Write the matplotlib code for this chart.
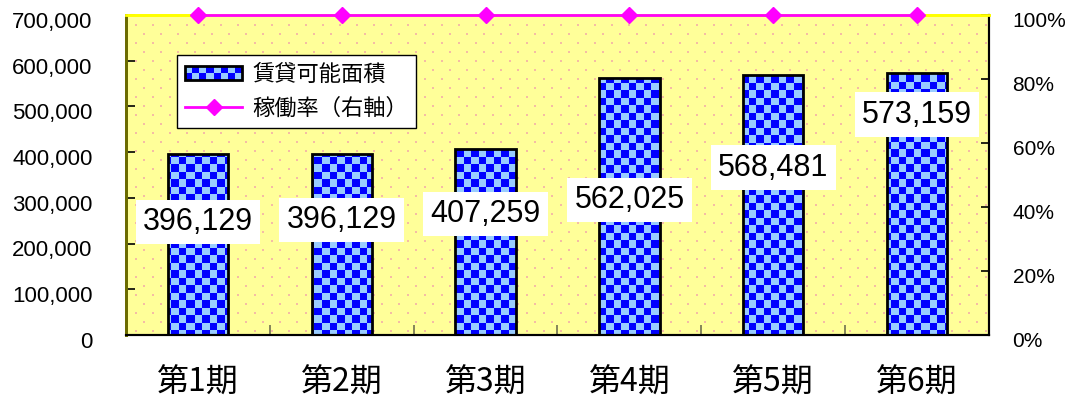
import numpy as np
import matplotlib
matplotlib.use('Agg')
import matplotlib.pyplot as plt
import matplotlib.transforms as mtransforms
from matplotlib.patches import Rectangle
from matplotlib.lines import Line2D
from matplotlib.legend_handler import HandlerBase
from matplotlib.ticker import PercentFormatter, FuncFormatter

# 期ごとの賃貸可能面積と稼働率
periods = ['第1期', '第2期', '第3期', '第4期', '第5期', '第6期']
area = [396129, 396129, 407259, 562025, 568481, 573159]
occupancy = [100, 100, 100, 100, 100, 100]
# ラベルの縦位置 (左軸の値)
label_y = [247000, 251600, 264700, 295300, 366400, 482300]

jp_font = 'Noto Sans CJK JP'
num_font = 'Liberation Sans'
dark_blue = '#0000FF'
light_blue = '#99CCFF'
magenta = '#FF00FF'

fig = plt.figure(figsize=(10.65, 4.01), dpi=100)
ax = fig.add_axes([126 / 1065, 66 / 401, 863 / 1065, 320 / 401])
ax2 = ax.twinx()

W, H = 863, 320
yy, xx = np.mgrid[0:H, 0:W]

# 背景: 黄色地にピンクの点
bg = np.ones((H, W, 3))
bg[:] = np.array([255, 255, 153]) / 255
row = yy // 9
dot = ((yy % 9) < 2) & (((xx + (row % 2) * 8) % 17) < 2)
bg[dot] = np.array([244, 188, 165]) / 255
ax.imshow(bg, extent=(0, 1, 0, 1), transform=ax.transAxes, aspect='auto',
          interpolation='nearest', zorder=0)

# 市松模様
checker = ((xx / 7.5).astype(int) + (yy / 7.5).astype(int)) % 2
chk = np.zeros((H, W, 3))
chk[checker == 0] = np.array([0, 0, 255]) / 255
chk[checker == 1] = np.array([153, 204, 255]) / 255

x = np.arange(len(periods))
bars = ax.bar(x, area, width=0.42, facecolor='none', edgecolor='black',
              linewidth=2, zorder=3)
for b in bars:
    im = ax.imshow(chk, extent=(0, 1, 0, 1), transform=ax.transAxes,
                   aspect='auto', interpolation='nearest', zorder=2)
    im.set_clip_path(b)

for xi, v, ly in zip(x, area, label_y):
    ax.text(xi, ly, f'{v:,}', ha='center', va='center', fontsize=22,
            family=num_font, zorder=5,
            bbox=dict(boxstyle='square,pad=0.24', facecolor='white',
                      edgecolor='none'))

ax2.plot(x, np.array(occupancy) / 100, color=magenta, linewidth=2,
         marker='D', markersize=8, clip_on=False, zorder=5)

ax.set_xlim(-0.5, len(periods) - 0.5)
ax.set_ylim(0, 700000)
ax.set_yticks(np.arange(0, 700001, 100000))
ax.yaxis.set_major_formatter(FuncFormatter(lambda v, p: f'{int(v):,}'))
ax2.set_ylim(0, 1)
ax2.set_yticks(np.arange(0, 1.01, 0.2))
ax2.yaxis.set_major_formatter(PercentFormatter(1.0, decimals=0))

ax.set_xticks(x, periods)
ax.set_xticks(np.arange(0.5, len(periods) - 1, 1), minor=True)
ax.tick_params(axis='x', which='major', length=0, pad=23, labelsize=23)
ax.tick_params(axis='x', which='minor', direction='in', length=7, width=1.2,
               color='#707050')
ax.tick_params(axis='y', direction='in', length=6.5, width=1.2, pad=24,
               labelsize=16, color='black')
ax2.tick_params(axis='y', direction='in', length=6, width=1.2, pad=17,
                labelsize=15, color='black')
for lab in ax.get_xticklabels():
    lab.set_family(jp_font)
shift = mtransforms.ScaledTranslation(0, -3.5 / 72, fig.dpi_scale_trans)
for lab in ax.get_yticklabels():
    lab.set_family(num_font)
    lab.set_transform(lab.get_transform() + shift)
for lab in ax2.get_yticklabels():
    lab.set_family(num_font)
    lab.set_transform(lab.get_transform() + shift)

for a in (ax, ax2):
    a.spines['left'].set_color('#6B6B00')
    a.spines['left'].set_linewidth(2)
    a.spines['bottom'].set_color('black')
    a.spines['bottom'].set_linewidth(1.5)
    a.spines['right'].set_color('black')
    a.spines['right'].set_linewidth(1.5)
    a.spines['top'].set_color('#FFFF00')
    a.spines['top'].set_linewidth(2)


class HandlerChecker(HandlerBase):
    def create_artists(self, legend, orig_handle, xdescent, ydescent,
                       width, height, fontsize, trans):
        arts = []
        nx, ny = 8, 2
        sw, sh = width / nx, height / ny
        for i in range(nx):
            for j in range(ny):
                c = dark_blue if (i + j) % 2 == 0 else light_blue
                arts.append(Rectangle((-xdescent + i * sw, -ydescent + j * sh),
                                      sw, sh, facecolor=c, edgecolor='none',
                                      transform=trans))
        arts.append(Rectangle((-xdescent, -ydescent), width, height,
                              facecolor='none', edgecolor='black', lw=2,
                              transform=trans))
        return arts


bar_proxy = Rectangle((0, 0), 1, 1)
line_proxy = Line2D([], [], color=magenta, linewidth=2, marker='D',
                    markersize=8)
leg = ax2.legend([bar_proxy, line_proxy], ['賃貸可能面積', '稼働率（右軸）'],
                 handler_map={bar_proxy: HandlerChecker()},
                 loc='upper left', bbox_to_anchor=(0.059, 0.875),
                 borderaxespad=0, prop={'family': jp_font, 'size': 16},
                 handlelength=2.6, handleheight=0.65, handletextpad=0.45,
                 labelspacing=0.5, fancybox=False, framealpha=1,
                 edgecolor='black', borderpad=0.35)
leg.get_frame().set_linewidth(1)

fig.savefig('out.png', dpi=100)
